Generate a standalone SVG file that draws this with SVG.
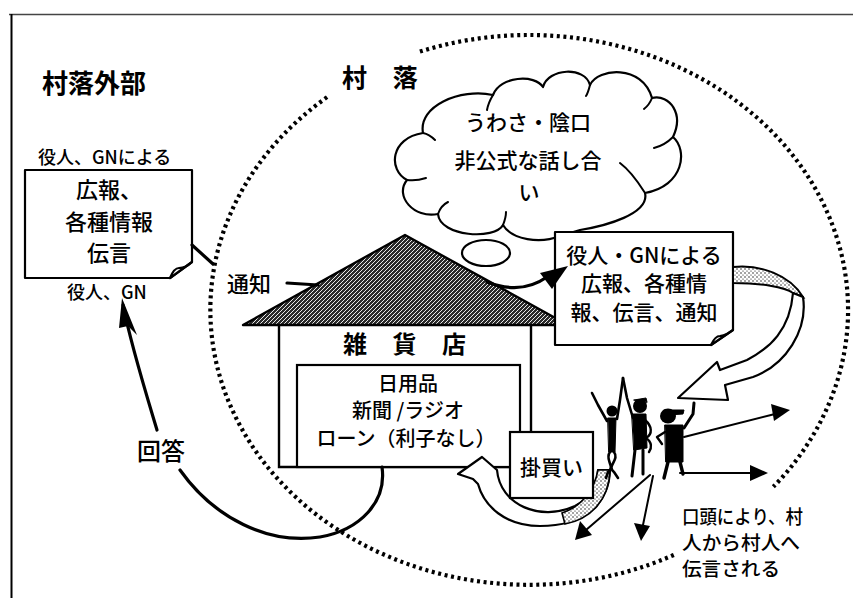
<svg xmlns="http://www.w3.org/2000/svg" width="853" height="598" viewBox="0 0 853 598">
  <defs>
    <pattern id="roofHatch" patternUnits="userSpaceOnUse" width="4" height="4">
      <rect width="4" height="4" fill="#2a2a2a"/>
      <path d="M-1,1 L1,-1 M0,4 L4,0 M3,5 L5,3" stroke="#fff" stroke-width="0.9"/>
    </pattern>
    <pattern id="stipple" patternUnits="userSpaceOnUse" width="4" height="4">
      <rect width="4" height="4" fill="#fff"/>
      <circle cx="1" cy="1" r="0.7" fill="#000"/>
      <circle cx="3" cy="3" r="0.6" fill="#000"/>
    </pattern>
  </defs>
  <style>
    text { font-family: "Noto Sans CJK JP", "Noto Sans", sans-serif; fill: #000; font-weight: 500; }
    .head { font-weight: bold; font-size: 25px; }
    .lbl { font-size: 18px; }
    .box { font-size: 21px; }
    .mid { text-anchor: middle; }
    .outline { fill: #fff; stroke: #000; stroke-width: 2.2; stroke-linejoin: round; }
    .thin { fill: none; stroke: #000; stroke-width: 2; stroke-linecap: round; }
    .thick { fill: none; stroke: #000; stroke-width: 3.2; stroke-linecap: round; }
    .dots { fill: none; stroke: #000; stroke-width: 4.2; stroke-dasharray: 3 3.6; }
    .ink { fill: #000; stroke: none; }
  </style>

  <!-- frame -->
  <g id="frame">
    <line x1="9" y1="14.5" x2="853" y2="14.5" stroke="#444" stroke-width="1.6"/>
    <line x1="11.5" y1="14" x2="11.5" y2="598" stroke="#000" stroke-width="2"/>
  </g>

  <!-- village boundary (dotted ellipse, open where labels sit) -->
  <g id="village-boundary">
    <path class="dots" d="M419.9,51.6 A319,275 0 0 1 773.4,486.8"/>
    <path class="dots" d="M673.8,555 A319,275 0 0 1 328.3,96.3"/>
  </g>

  <!-- region labels -->
  <g id="outside-label">
    <text class="head" x="42" y="93" style="font-size:26px">村落外部</text>
  </g>
  <g id="village-label">
    <text class="head" x="342" y="86.5" letter-spacing="10">村 落</text>
  </g>

  <!-- rumour cloud -->
  <g id="cloud">
    <path class="outline" stroke-width="2.4" d="M493,95 C500,76 535,74 543,87 C548,68 585,66 590,85 C598,68 642,64 652,98 C670,94 684,114 673,137 C688,150 684,186 645,193 C650,214 605,226 580,230 L560,236 C540,244 512,240 503,225 C495,240 440,237 438,214 C414,219 394,196 407,180 C388,170 390,138 423,133 C418,106 460,88 493,95 Z"/>
    <path class="thin" d="M493,95 C490,100 488,104 487,110 M423,133 C428,134 432,137 435,140 M407,180 C414,181 420,180 426,178 M438,214 C440,208 444,204 448,202 M503,225 C505,220 506,216 506,212 M645,193 C640,185 632,172 620,163 M673,137 C668,142 662,146 654,148 M590,85 C589,89 588,93 586,96 M652,98 C650,103 648,106 644,109"/>
    <text class="box mid" x="528" y="130">うわさ・陰口</text>
    <text class="box mid" x="528" y="168">非公式な話し合</text>
    <text class="box mid" x="529" y="200">い</text>
    <ellipse class="outline" cx="486" cy="253" rx="24" ry="13"/>
  </g>

  <!-- notice from outside officials -->
  <g id="outside-notice">
    <text class="lbl" x="38" y="164">役人、GNによる</text>
    <path class="outline" d="M25,170 H192 V262 L170,278 H25 Z"/>
    <path class="outline" stroke-width="1.8" d="M170,278 Q174,268 179,268 Q186,268 192,262 Z"/>
    <text class="mid" x="109" y="198" style="font-size:22px">広報、</text>
    <text class="mid" x="109" y="230" style="font-size:22px">各種情報</text>
    <text class="mid" x="109" y="261" style="font-size:22px">伝言</text>
    <text class="lbl" x="67" y="299">役人、GN</text>
  </g>

  <!-- general store -->
  <g id="store">
    <path d="M405,235 L568,325 L243,325 Z" fill="url(#roofHatch)" stroke="#000" stroke-width="2.4" stroke-linejoin="round"/>
    <path d="M279,325 V467 H512 M531,325 V434" fill="none" stroke="#000" stroke-width="2.4"/>
    <text class="head" x="343" y="353" letter-spacing="10" style="font-size:24px">雑 貨 店</text>
    <rect x="297" y="365" width="223" height="102" fill="#fff" stroke="#000" stroke-width="2.2"/>
    <text class="mid" x="408" y="391" style="font-size:20px">日用品</text>
    <text class="mid" x="408" y="418" style="font-size:20px">新聞 /ラジオ</text>
    <text class="mid" x="406" y="446" style="font-size:20px">ローン（利子なし）</text>
  </g>

  <!-- notice posted in the store -->
  <g id="village-notice">
    <path class="outline" d="M555,232 H733 V330 L711,345 H555 Z"/>
    <path class="outline" stroke-width="1.8" d="M711,345 Q715,336 720,336 Q727,335 733,330 Z"/>
    <text class="box mid" x="644" y="263">役人・GNによる</text>
    <text class="box mid" x="644" y="291">広報、各種情</text>
    <text class="box mid" x="644" y="320">報、伝言、通知</text>
  </g>

  <!-- connectors -->
  <g id="connectors">
    <!-- notice: outside box to store -->
    <line class="thick" x1="192" y1="245" x2="213" y2="264"/>
    <path class="thick" d="M287,283 L318,285"/>
    <text class="box" x="227" y="291.5" style="font-size:22px">通知</text>

    <!-- roof to posted notice -->
    <path class="thick" d="M487,282 C510,291 530,289 547,277"/>
    <path class="ink" d="M568,266 L540,273 L552,289 Z"/>

    <!-- answer back to officials -->
    <path class="thick" stroke-width="3.6" d="M382,467 C387,502 360,530 320,537 C268,545 214,518 180,470"/>
    <path class="thick" stroke-width="3.6" d="M157,430 C145,390 131,345 123,305"/>
    <path class="ink" d="M122,298 L137,335 L128,326 L119,328 Z"/>
    <text x="137" y="460" style="font-size:24px">回答</text>

    <!-- credit purchase loop -->
    <path class="outline" d="M458,474 L482,457 L497,470 C500,505 540,522 575,506 C590,498 597,486 598,470 L610,470 C609,504 584,526 540,526 C505,526 484,506 478,484 L473,479 Z"/>
    <path d="M562,513 C580,507 594,492 598,470 L610,470 C609,500 591,519 565,524 Z" fill="url(#stipple)" stroke="#000" stroke-width="1.6"/>
    <rect x="510" y="432" width="83" height="66" fill="#fff" stroke="#000" stroke-width="2.2"/>
    <text x="520" y="475" style="font-size:21px">掛買い</text>

    <!-- posted notice reaching villagers -->
    <path d="M733,267 C760,264 790,275 803,297 L793,293 C785,287 760,283 733,283 Z" fill="url(#stipple)" stroke="#000" stroke-width="2"/>
    <path class="outline" d="M803,297 C808,330 786,365 753,377 L725,385 L728,400 L678,398 L717,362 L720,370 L747,360 C770,348 790,330 793,293 Z"/>

    <!-- word of mouth -->
    <line class="thin" x1="684" y1="437" x2="775" y2="414"/>
    <path class="ink" d="M790,410 L771,404 L774,421 Z"/>
    <line class="thin" x1="680" y1="473" x2="752" y2="473"/>
    <path class="ink" d="M768,473 L750,465 L750,481 Z"/>
    <line class="thin" x1="650" y1="475" x2="586" y2="530"/>
    <path class="ink" d="M575,540 L580,521 L592,535 Z"/>
    <line class="thin" x1="653" y1="476" x2="643" y2="525"/>
    <path class="ink" d="M641,541 L634,523 L650,526 Z"/>
  </g>

  <!-- villagers -->
  <g id="villagers">
    <!-- left figure, arms raised -->
    <g fill="#000" stroke="#000" stroke-linecap="round" stroke-linejoin="round">
      <circle cx="612" cy="411" r="5.5" stroke="none"/>
      <path d="M607,421 L598,405 L592,393" fill="none" stroke-width="2.6"/>
      <path d="M617,419 L620,400 L623,378" fill="none" stroke-width="2.6"/>
      <path d="M608,418 L616,418 L615,452 L609,452 Z" stroke-width="1"/>
      <path d="M610,452 C604,460 616,466 608,472 L606,478 M614,452 C620,460 606,466 614,472 L618,478" fill="none" stroke-width="2.6"/>
    </g>
    <!-- middle figure -->
    <g fill="#000" stroke="#000" stroke-linecap="round" stroke-linejoin="round">
      <circle cx="640" cy="406" r="7" stroke="none"/>
      <path d="M634,400 L646,398 L647,402 Z" stroke-width="1"/>
      <path d="M633,418 L627,398 L623,378" fill="none" stroke-width="2.6"/>
      <path d="M632,414 L646,414 L647,448 L634,450 Z" stroke-width="1"/>
      <path d="M645,420 C652,426 653,434 646,438 C652,442 652,448 649,452" fill="none" stroke-width="2.4"/>
      <path d="M635,450 L632,476 M643,450 L643,474" fill="none" stroke-width="3"/>
    </g>
    <!-- right figure with cap -->
    <g fill="#000" stroke="#000" stroke-linecap="round" stroke-linejoin="round">
      <ellipse cx="668" cy="416" rx="8" ry="7.5" stroke="none"/>
      <path d="M664,410 L684,410 L683,414 L668,415 Z" stroke-width="1"/>
      <path d="M684,428 L693,414 L694,403" fill="none" stroke-width="3"/>
      <path d="M665,425 L683,425 L683,462 L666,462 Z" stroke-width="1"/>
      <path d="M665,432 L657,437 L662,444" fill="none" stroke-width="2.4"/>
      <path d="M668,462 L664,478 M680,462 L683,474" fill="none" stroke-width="3.4"/>
    </g>
  </g>

  <!-- word-of-mouth caption -->
  <g id="caption">
    <text x="682" y="524" textLength="121" lengthAdjust="spacingAndGlyphs" style="font-size:19px">口頭により、村</text>
    <text x="682" y="550" textLength="118" lengthAdjust="spacingAndGlyphs" style="font-size:19px">人から村人へ</text>
    <text x="682" y="576" textLength="98" lengthAdjust="spacingAndGlyphs" style="font-size:19px">伝言される</text>
  </g>
</svg>
